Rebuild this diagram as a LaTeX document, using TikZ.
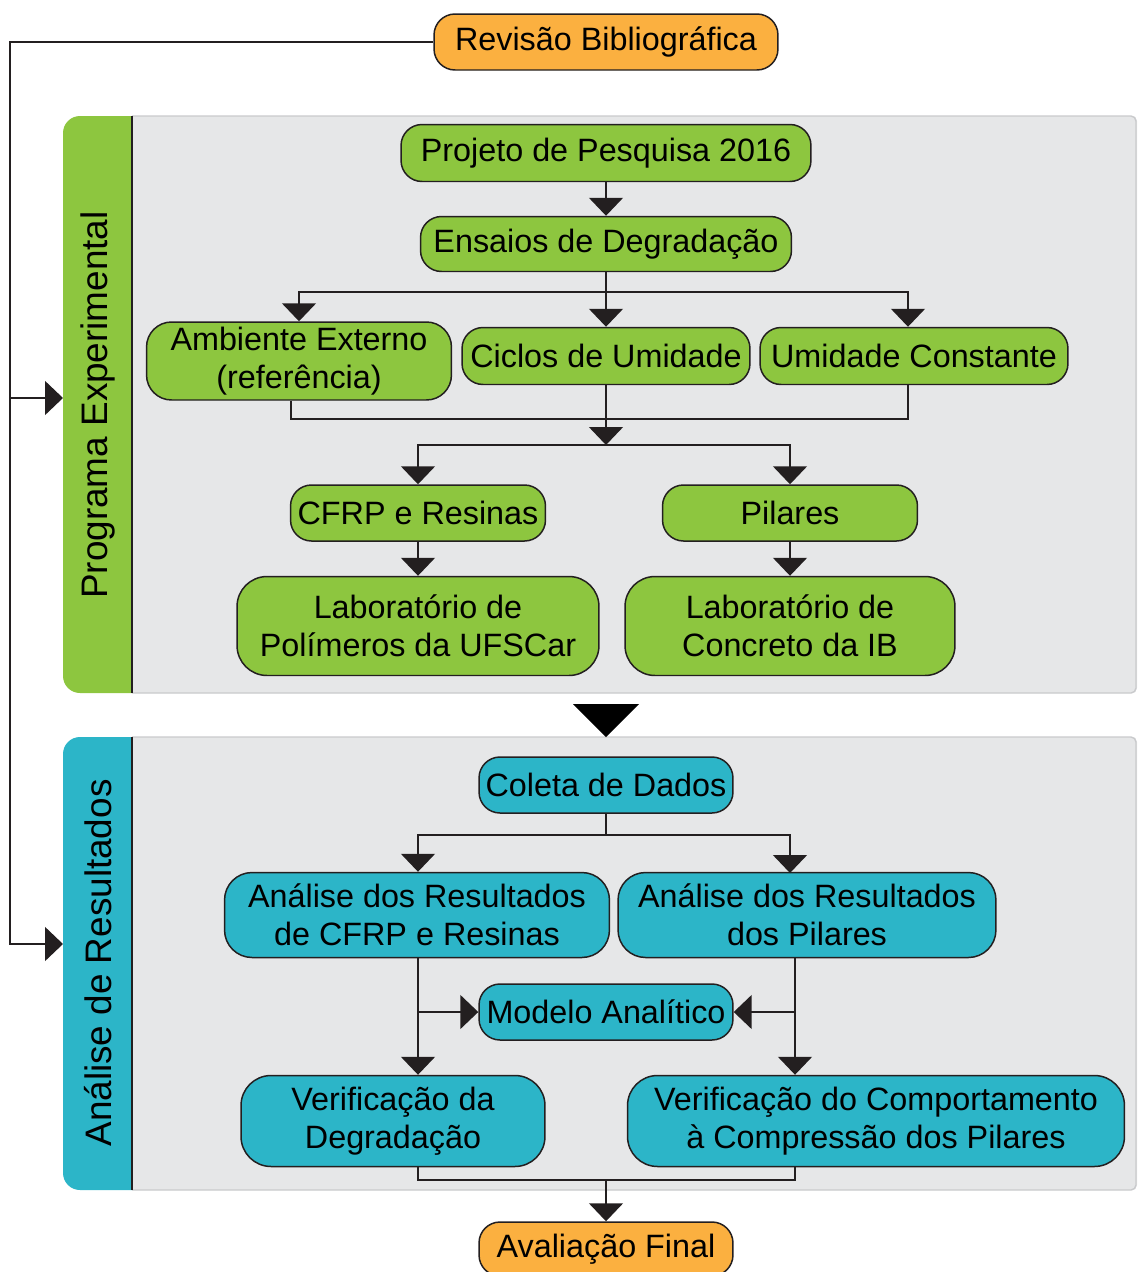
\documentclass[tikz,border=0pt]{standalone}
\usepackage{fontspec}
\setmainfont{Liberation Sans}
\usetikzlibrary{arrows.meta}
\definecolor{grn}{HTML}{8DC63F}
\definecolor{cyn}{HTML}{2CB5C8}
\definecolor{org}{HTML}{FBB040}
\definecolor{pnl}{HTML}{E6E7E8}
\definecolor{pnlline}{HTML}{C9CACC}
\definecolor{ink}{HTML}{231F20}

\begin{document}
\begin{tikzpicture}[x=0.02cm,y=-0.02cm,
  box/.style={draw=ink, line width=0.85pt, rounded corners=0.42cm, inner sep=0pt,
              align=center, font=\fontsize{18.4}{21.6}\selectfont, text=black},
  gbox/.style={box, fill=grn},
  bbox/.style={box, fill=cyn},
  obox/.style={box, fill=org},
  link/.style={draw=ink, line width=0.85pt},
  arr/.style={link, -{Triangle[width=0.68cm,length=0.36cm]}},
  side/.style={font=\fontsize{21}{25}\selectfont, rotate=90, inner sep=0pt}
]
\useasboundingbox (0,0) rectangle (1137,1272);

% ---- panel backgrounds ----
\foreach \top/\bot/\col in {116/693/grn, 737/1190/cyn}{
  \fill[pnl] (132,\top) [rounded corners=0.1cm] -- (1137,\top) -- (1137,\bot) [sharp corners] -- (132,\bot) -- cycle;
  \draw[pnlline, line width=0.8pt] (132,\top) [rounded corners=0.1cm] -- (1136,\top) -- (1136,\bot) [sharp corners] -- (132,\bot);
  \fill[\col] (132,\top) [rounded corners=0.34cm] -- (63,\top) -- (63,\bot) [sharp corners] -- (132,\bot) -- cycle;
  \draw[ink, line width=0.85pt] (132,\top) -- (132,\bot);
}
\node[side] (lab-exp) at (98,405) {Programa Experimental};
\node[side] (lab-res) at (98,963) {Análise de Resultados};
\coordinate (p1in) at (63,398);
\coordinate (p2in) at (63,944);

% ---- nodes ----
\node[obox, minimum width=6.88cm, minimum height=1.12cm] (rev) at (606,42) {Revisão Bibliográfica};

\node[gbox, minimum width=8.2cm, minimum height=1.14cm] (proj) at (606,153) {Projeto de Pesquisa 2016};
\node[gbox, minimum width=7.42cm, minimum height=1.1cm] (ens) at (606,244) {Ensaios de Degradação};
\node[gbox, minimum width=6.1cm, minimum height=1.56cm, rounded corners=0.5cm] (amb) at (299,361) {Ambiente Externo\\(referência)};
\node[gbox, minimum width=5.76cm, minimum height=1.14cm] (cic) at (606,356) {Ciclos de Umidade};
\node[gbox, minimum width=6.16cm, minimum height=1.14cm] (uc) at (914,356) {Umidade Constante};
\node[gbox, minimum width=5.1cm, minimum height=1.12cm] (cfrp) at (418,513) {CFRP e Resinas};
\node[gbox, minimum width=5.1cm, minimum height=1.12cm] (pil) at (790,513) {Pilares};
\node[gbox, minimum width=7.24cm, minimum height=1.98cm, rounded corners=0.6cm] (lab1) at (418,626) {Laboratório de\\Polímeros da UFSCar};
\node[gbox, minimum width=6.6cm, minimum height=1.98cm, rounded corners=0.6cm] (lab2) at (790,626) {Laboratório de\\Concreto da IB};

\node[bbox, minimum width=5.08cm, minimum height=1.12cm] (col) at (606,785) {Coleta de Dados};
\node[bbox, minimum width=7.7cm, minimum height=1.7cm, rounded corners=0.55cm] (an1) at (417,915) {Análise dos Resultados\\de CFRP e Resinas};
\node[bbox, minimum width=7.56cm, minimum height=1.7cm, rounded corners=0.55cm] (an2) at (807,915) {Análise dos Resultados\\dos Pilares};
\node[bbox, minimum width=5.08cm, minimum height=1.12cm] (mod) at (606,1012) {Modelo Analítico};
\node[bbox, minimum width=6.08cm, minimum height=1.82cm, rounded corners=0.6cm] (ver1) at (393,1121) {Verificação da\\Degradação};
\node[bbox, minimum width=9.94cm, minimum height=1.82cm, rounded corners=0.6cm] (ver2) at (876,1121) {Verificação do Comportamento\\à Compressão dos Pilares};

\node[obox, minimum width=5.08cm, minimum height=1.08cm] (aval) at (606,1249) {Avaliação Final};

% ---- connectors: feedback rail on the left ----
\coordinate (rail) at (10,42);
\draw[arr] (rev.west) -- (rail) |- (p2in);
\draw[arr] (rail |- p1in) -- (p1in);

% ---- experimental programme ----
\draw[arr] (proj) -- (ens);
\coordinate (b1) at (606,292);
\draw[arr] (ens.south) -- (cic.north);
\draw[arr] (b1) -| (amb.north);
\draw[arr] (b1) -| ([xshift=-0.12cm]uc.north);
\coordinate (m1) at (606,419);
\draw[link] ([xshift=-0.16cm]amb.south) |- (m1) -| ([xshift=-0.12cm]uc.south);
\coordinate (m2) at (606,445);
\draw[arr] (cic.south) -- (m2);
\draw[arr] (m2) -| (cfrp.north);
\draw[arr] (m2) -| (pil.north);
\draw[arr] (cfrp) -- (lab1);
\draw[arr] (pil) -- (lab2);

% ---- transition between the two stages ----
\fill[black] (573,704) -- (639,704) -- (606,737) -- cycle;

% ---- analysis of results ----
\coordinate (lv) at (418,0);
\coordinate (rv) at (795,0);
\coordinate (m3) at (606,835);
\draw[link] (col.south) -- (m3);
\draw[arr] (m3) -| (an1.north -| lv);
\draw[arr] (m3) -| (790,873);
\draw[arr] (an1.south -| lv) -- (ver1.north -| lv);
\draw[arr] (mod.west -| lv) -- (mod.west);
\draw[arr] (an2.south -| rv) -- (ver2.north -| rv);
\draw[arr] (mod.east -| rv) -- (mod.east);
\coordinate (m4) at (606,1180);
\draw[link] (ver1.south -| lv) |- (m4) -| (ver2.south -| rv);
\draw[arr] (m4) -- (aval.north);
\end{tikzpicture}
\end{document}
